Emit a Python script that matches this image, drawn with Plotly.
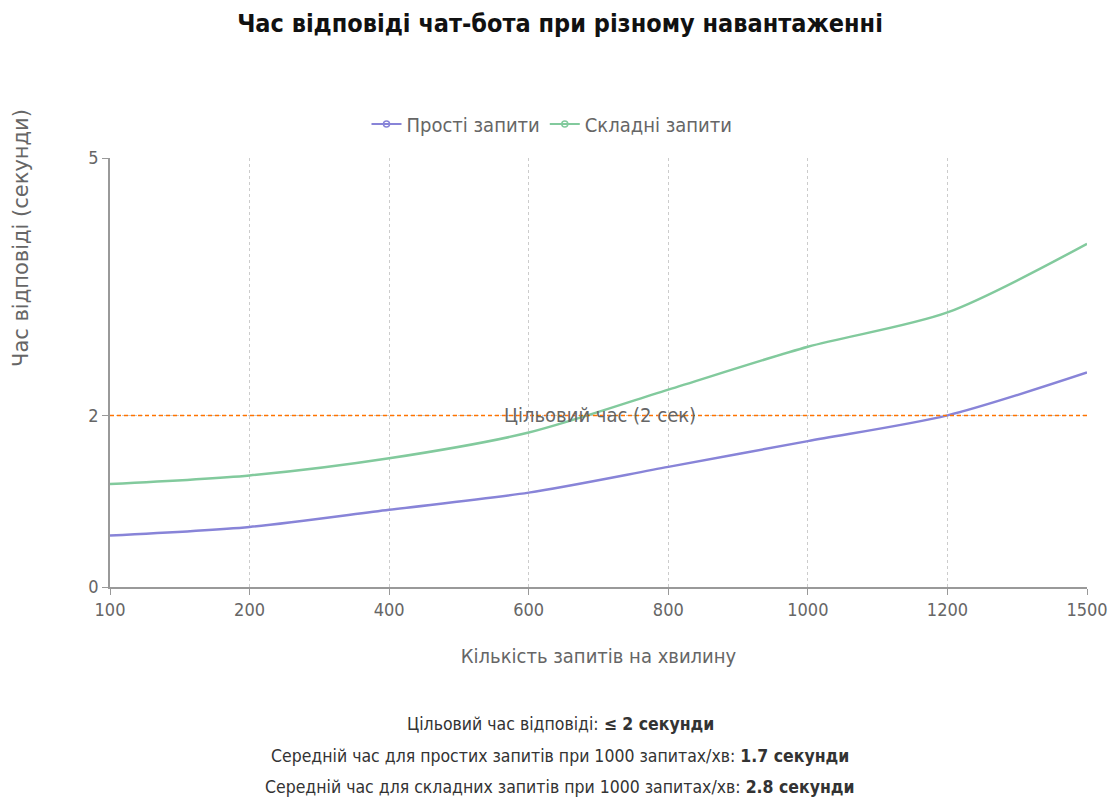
import plotly.graph_objects as go

categories = ["100", "200", "400", "600", "800", "1000", "1200", "1500"]
simple_times = [0.6, 0.7, 0.9, 1.1, 1.4, 1.7, 2.0, 2.5]
complex_times = [1.2, 1.3, 1.5, 1.8, 2.3, 2.8, 3.2, 4.0]
target_time = 2
y_ticks = [0, 2, 5]

footer_lines = [
    "Цільовий час відповіді: <b>≤ 2 секунди</b>",
    "Середній час для простих запитів при 1000 запитах/хв: <b>1.7 секунди</b>",
    "Середній час для складних запитів при 1000 запитах/хв: <b>2.8 секунди</b>",
]

FONT = "DejaVu Sans Condensed, sans-serif"
FONT_WIDE = "DejaVu Sans, sans-serif"
PURPLE = "#8884d8"
GREEN = "#82ca9d"
ORANGE = "#ff7300"
GRAY = "#666666"

# page geometry helpers (page is offset 8px by body margin)
PL, PR, PT, PB = 110, 1087, 158, 587


def px(xp):
    return (xp - PL) / (PR - PL)


def py(yp):
    return (PB - yp) / (PB - PT)


fig = go.Figure()

for name, vals, col in [("Прості запити", simple_times, PURPLE),
                        ("Складні запити", complex_times, GREEN)]:
    fig.add_trace(go.Scatter(
        x=categories, y=vals, mode="lines", name=name,
        line=dict(color=col, width=2.5, shape="spline", smoothing=0.8),
        showlegend=False, hoverinfo="x+y"))
    fig.add_trace(go.Scatter(
        x=[None], y=[None], mode="lines+markers", name=name,
        line=dict(color=col, width=2),
        marker=dict(symbol="circle-open", size=6, color=col, line=dict(width=1.5)),
        showlegend=True))

fig.add_shape(type="line", xref="paper", x0=0, x1=1, yref="y", y0=target_time, y1=target_time,
              line=dict(color=ORANGE, width=1.5, dash="4px,3px"))

fig.add_annotation(x=px(600), xref="paper", y=target_time, yref="y", text="Цільовий час (2 сек)",
                   showarrow=False, xanchor="center", yanchor="middle",
                   font=dict(family=FONT, size=20, color=GRAY))

fig.add_annotation(x=px(21), xref="paper", y=py(238), yref="paper", text="Час відповіді (секунди)",
                   showarrow=False, textangle=-90, xanchor="center", yanchor="middle",
                   font=dict(family=FONT_WIDE, size=21, color=GRAY))

for text, yy in zip(footer_lines, [724, 756, 787]):
    fig.add_annotation(x=px(560), xref="paper", y=py(yy), yref="paper", text=text,
                       showarrow=False, align="center", xanchor="center", yanchor="middle",
                       font=dict(family=FONT, size=17.5, color="#333333"))

W, H = 1112, 796
fig.update_layout(
    width=W, height=H,
    paper_bgcolor="white", plot_bgcolor="white",
    margin=dict(l=PL - 8, r=W + 8 - PR, t=PT - 8, b=H + 8 - PB),
    title=dict(text="<b>Час відповіді чат-бота при різному навантаженні</b>",
               x=(560 - 8) / W, xanchor="center", y=1 - 15 / H, yanchor="middle",
               font=dict(family=FONT, size=25, color="#111111")),
    legend=dict(orientation="h", x=px(552), xanchor="center", y=py(124), yanchor="middle",
                font=dict(family=FONT, size=20), bgcolor="rgba(0,0,0,0)"),
    font=dict(family=FONT, color=GRAY),
    xaxis=dict(type="category", categoryorder="array", categoryarray=categories,
               range=[0, len(categories) - 1],
               showgrid=True, gridcolor="#cccccc", griddash="3px,3px", gridwidth=1,
               showline=True, linecolor="#999999", linewidth=1.5,
               ticks="outside", tickcolor="#999999", ticklen=6,
               tickfont=dict(family=FONT, size=18, color=GRAY),
               title=dict(text="Кількість запитів на хвилину", standoff=30,
                          font=dict(family=FONT, size=20, color=GRAY)),
               zeroline=False),
    yaxis=dict(range=[0, 5], tickvals=y_ticks, ticktext=[str(v) for v in y_ticks],
               showgrid=True, gridcolor="#cccccc", griddash="3px,3px", gridwidth=1,
               showline=True, linecolor="#999999", linewidth=1.5,
               ticks="outside", tickcolor="#999999", ticklen=6,
               tickfont=dict(family=FONT, size=18, color=GRAY),
               zeroline=False),
)

fig.write_html("out.html")
